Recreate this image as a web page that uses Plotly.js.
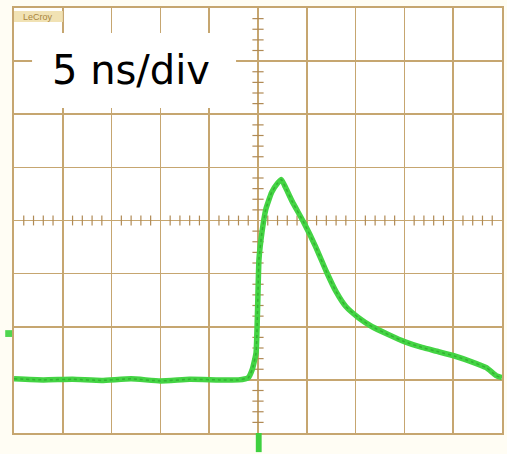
<!DOCTYPE html>
<html>
<head>
<meta charset="utf-8">
<script src="https://cdn.plot.ly/plotly-3.0.1.min.js"></script>
<style>html,body{margin:0;padding:0;background:#fffdf4;}</style>
</head>
<body>
<div id="chart" style="width:507px;height:454px;"></div>
<script>
// Time axis in ns (5 ns/div), amplitude in divisions
var timeNs = [-25, -22, -19, -16, -13, -10, -7, -4, -2, -1, -0.6, -0.2, 0.1, 0.4, 0.8, 1.4, 2.0, 2.4, 2.8, 3.5, 4.7, 5.9, 7.0, 8.0, 9.0, 10.3, 11.7, 13.4, 15.0, 16.8, 18.5, 20.3, 21.9, 23.4, 24.4, 25];
var signalDiv = [-2.98, -3.0, -2.99, -3.01, -2.98, -3.02, -2.99, -3.0, -3.0, -2.96, -2.81, -2.49, -0.73, -0.23, 0.21, 0.53, 0.70, 0.77, 0.63, 0.36, -0.04, -0.49, -0.96, -1.34, -1.62, -1.83, -2.0, -2.15, -2.28, -2.39, -2.47, -2.56, -2.66, -2.77, -2.92, -2.96];
var xRange = [-25, 25];
var yRange = [-4, 4];
var labelText = "5 ns/div";
var logoText = "LeCroy";

var gridColor = "#c6a670";
var tickColor = "#b08a55";

// minor tick marks along centre lines (decoration)
var hx = [], hy = [], vx = [], vy = [];
for (var t = -25; t <= 25; t += 1) { if (t % 5 !== 0) { hx.push(t); hy.push(0); } }
for (var k = -20; k <= 20; k += 1) { var v = k / 5; if (k % 5 !== 0) { vx.push(0); vy.push(v); } }

var traces = [
  {x: hx, y: hy, mode: "markers", type: "scatter", hoverinfo: "skip",
   marker: {symbol: "line-ns", size: 7, line: {width: 1.2, color: tickColor}}},
  {x: vx, y: vy, mode: "markers", type: "scatter", hoverinfo: "skip",
   marker: {symbol: "line-ew", size: 8, line: {width: 1.2, color: tickColor}}},
  {x: timeNs, y: signalDiv, mode: "lines", type: "scatter",
   line: {color: "#44d444", width: 5.5, shape: "spline", smoothing: 0.4}},
  {x: timeNs, y: signalDiv, mode: "lines", type: "scatter",
   line: {color: "#289a28", width: 1.5, shape: "spline", smoothing: 0.4, dash: "dot"}, opacity: 0.6}
];

var layout = {
  width: 507, height: 454,
  margin: {l: 14, r: 5, t: 8, b: 21, pad: 0},
  paper_bgcolor: "#fffdf4",
  plot_bgcolor: "#ffffff",
  showlegend: false,
  xaxis: {range: xRange, dtick: 5, tick0: 0, showticklabels: false, ticks: "",
    showgrid: true, gridcolor: gridColor, gridwidth: 1.6,
    zeroline: true, zerolinecolor: gridColor, zerolinewidth: 1.6,
    showline: true, mirror: true, linecolor: gridColor, linewidth: 1.6, fixedrange: true},
  yaxis: {range: yRange, dtick: 1, tick0: 0, showticklabels: false, ticks: "",
    showgrid: true, gridcolor: gridColor, gridwidth: 1.6,
    zeroline: true, zerolinecolor: gridColor, zerolinewidth: 1.6,
    showline: true, mirror: true, linecolor: gridColor, linewidth: 1.6, fixedrange: true},
  shapes: [
    {type: "rect", xref: "paper", yref: "paper", x0: 0.037, x1: 0.455, y0: 0.765, y1: 0.941,
     fillcolor: "#ffffff", line: {width: 0}, layer: "above"},
    {type: "rect", xref: "paper", yref: "paper", x0: 0.0, x1: 0.1, y0: 0.967, y1: 0.993,
     fillcolor: "#f1e2b4", line: {width: 0}, layer: "above"},
    {type: "rect", xref: "paper", yref: "paper", x0: -0.018, x1: -0.004, y0: 0.226, y1: 0.242,
     fillcolor: "#4fd64f", line: {width: 0}, layer: "above"},
    {type: "rect", xref: "paper", yref: "paper", x0: 0.4955, x1: 0.5075, y0: -0.045, y1: 0.0,
     fillcolor: "#3fd03f", line: {width: 0}, layer: "above"}
  ],
  annotations: [
    {xref: "paper", yref: "paper", x: 0.24, y: 0.855, xanchor: "center", yanchor: "middle",
     text: labelText, showarrow: false,
     font: {family: "DejaVu Sans, Liberation Sans, Arial", size: 40, color: "#000000"}},
    {xref: "paper", yref: "paper", x: 0.05, y: 0.98, xanchor: "center", yanchor: "middle",
     text: logoText, showarrow: false,
     font: {family: "Liberation Sans, Arial", size: 9, color: "#a8843c"}}
  ]
};

Plotly.newPlot("chart", traces, layout, {displayModeBar: false, staticPlot: true});
</script>
</body>
</html>
